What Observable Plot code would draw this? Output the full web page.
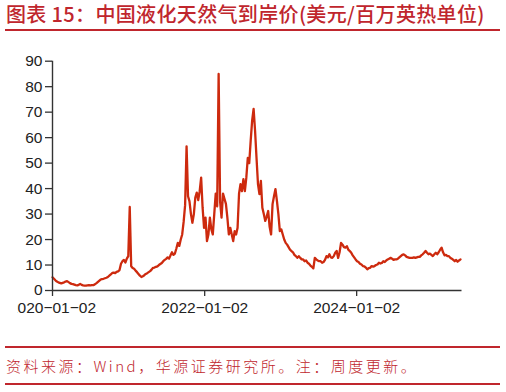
<!DOCTYPE html>
<html><head><meta charset="utf-8">
<script src="https://cdn.jsdelivr.net/npm/d3@7"></script>
<script src="https://cdn.jsdelivr.net/npm/@observablehq/plot@0.6"></script>
<style>
body{margin:0;background:#fff;}
#wrap{position:relative;width:506px;height:392px;overflow:hidden;background:#fff;}
#title{position:absolute;left:6px;top:0;font-family:"Noto Sans CJK SC";font-size:20px;font-weight:500;letter-spacing:0.35px;color:#c0262d;white-space:nowrap;line-height:28px;}
.rule{position:absolute;left:5px;width:495px;height:2px;background:#c0262d;}
#chart{position:absolute;left:16.5px;top:34px;}
#foot{position:absolute;left:6px;top:354.5px;font-family:"Noto Sans CJK SC";font-size:15px;font-weight:300;letter-spacing:2.5px;color:#c0262d;white-space:nowrap;line-height:22px;}
</style></head>
<body>
<div id="wrap">
  <div id="title">图表 15：中国液化天然气到岸价(美元/百万英热单位)</div>
  <div class="rule" style="top:29px"></div>
  <div id="chart"></div>
  <div class="rule" style="top:346px"></div>
  <div id="foot">资料来源：Wind，华源证券研究所。注：周度更新。</div>
  <div class="rule" style="top:383px"></div>
</div>
<script>
const startDate = "2020-01-02";
const domainEnd = "2025-05-22";
// weekly LNG landed price, USD/MMBtu
const lngPrice = [
  5.2, 4.6, 4.0, 3.5, 3.2, 3.0, 2.8, 3.0, 3.2, 3.5,
  3.7, 3.3, 2.9, 2.6, 2.5, 2.3, 2.1, 2.0, 2.2, 2.6,
  2.2, 2.0, 1.9, 1.9, 2.0, 2.1, 2.0, 2.1, 2.1, 2.4,
  2.8, 3.3, 3.8, 4.3, 4.5, 4.6, 4.8, 5.0, 5.3, 5.8,
  6.3, 6.9, 7.0, 6.8, 7.3, 7.5, 8.0, 10.5, 11.5, 12.0,
  11.0, 12.5, 13.5, 32.8, 9.5, 8.8, 8.5, 7.8, 7.2, 6.5,
  5.8, 5.3, 5.6, 6.0, 6.5, 6.8, 7.2, 7.6, 8.2, 8.9,
  9.0, 9.3, 9.5, 10.0, 10.4, 10.8, 11.5, 12.0, 12.4, 13.0,
  12.5, 13.8, 15.0, 14.0, 14.5, 16.5, 18.7, 17.5, 20.0, 22.0,
  27.0, 33.5, 56.6, 37.0, 35.0, 30.0, 26.6, 30.0, 36.5, 38.4,
  35.5, 39.0, 44.3, 32.5, 24.6, 28.6, 19.4, 22.0, 28.6, 24.0,
  22.0, 30.0, 38.0, 33.0, 85.0, 35.0, 28.6, 38.0, 36.0, 34.0,
  28.6, 22.0, 24.6, 22.0, 19.4, 23.3, 22.0, 24.6, 38.0, 41.7,
  39.0, 43.7, 39.0, 44.3, 52.0, 50.0, 58.8, 66.7, 71.3, 62.7,
  52.0, 41.8, 37.8, 43.0, 32.5, 30.0, 27.3, 29.0, 31.2, 25.0,
  22.0, 33.9, 37.0, 39.8, 35.2, 30.0, 23.3, 24.0, 22.0, 20.0,
  18.7, 18.0, 17.0, 16.0, 15.5, 15.0, 14.0, 13.5, 12.8, 13.5,
  12.8, 12.2, 12.2, 11.5, 11.8, 10.9, 10.5, 9.8, 9.3, 8.7,
  12.8, 12.2, 11.8, 11.5, 11.5, 10.9, 11.2, 12.0, 13.5, 13.0,
  14.2, 13.0, 12.8, 13.5, 14.8, 15.5, 12.8, 15.0, 18.7, 18.0,
  17.0, 16.8, 17.4, 16.0, 15.5, 14.8, 13.8, 13.0, 12.2, 11.5,
  11.2, 10.5, 10.2, 9.6, 9.5, 9.0, 8.3, 8.8, 8.9, 9.6,
  9.4, 9.6, 10.0, 10.2, 10.9, 10.6, 10.8, 11.5, 11.2, 11.8,
  12.2, 12.5, 12.8, 12.5, 12.0, 12.2, 12.2, 12.5, 13.0, 13.5,
  14.0, 14.2, 13.8, 13.2, 13.0, 12.8, 12.8, 12.8, 13.0, 12.8,
  13.0, 13.2, 13.2, 13.8, 14.2, 14.8, 15.5, 14.8, 14.2, 14.5,
  14.0, 13.5, 14.2, 14.8, 14.2, 15.0, 16.0, 16.8, 15.0, 13.8,
  14.0, 13.5, 13.5, 12.8, 12.5, 12.0, 11.5, 12.0, 11.3, 11.8, 12.2
];
const tickDates = ["2020-01-02", "2022-01-02", "2024-01-02"];
const tickLabels = ["2020−01−02", "2022−01−02", "2024−01−02"];
const yTicks = [0, 10, 20, 30, 40, 50, 60, 70, 80, 90];

const start = new Date(startDate);
const data = lngPrice.map((v, i) => ({date: d3.utcDay.offset(start, 7 * i), value: v}));
const xTicks = tickDates.map(d => new Date(d));
const labelOf = new Map(xTicks.map((d, i) => [+d, tickLabels[i]]));

const axisColor = "#333";
const plot = Plot.plot({
  width: 489.5,
  height: 290,
  marginLeft: 35,
  marginRight: 45,
  marginTop: 26.7,
  marginBottom: 34,
  style: {fontFamily: "'Liberation Sans', Arial, sans-serif", fontSize: "15.5px", overflow: "hidden", color: axisColor, background: "white"},
  x: {type: "utc", domain: [start, new Date(domainEnd)]},
  y: {domain: [0, 90]},
  marks: [
    Plot.axisY({ticks: yTicks, tickSize: 7, tickPadding: 3, label: null, fontSize: 15.5, stroke: axisColor, fill: "#222", strokeWidth: 1.3}),
    Plot.axisX({ticks: xTicks, tickSize: 6, tickPadding: 5, label: null, tickFormat: d => labelOf.get(+d), fontSize: 15.5, stroke: axisColor, fill: "#222", strokeWidth: 1.3}),
    Plot.line(data, {x: "date", y: "value", stroke: "#cd2a0e", strokeWidth: 2.3, strokeLinejoin: "round"}),
    Plot.ruleY([0], {stroke: axisColor, strokeWidth: 1.4}),
    Plot.ruleX([start], {stroke: axisColor, strokeWidth: 1.4})
  ]
});
document.getElementById("chart").appendChild(plot);
</script>
</body></html>
